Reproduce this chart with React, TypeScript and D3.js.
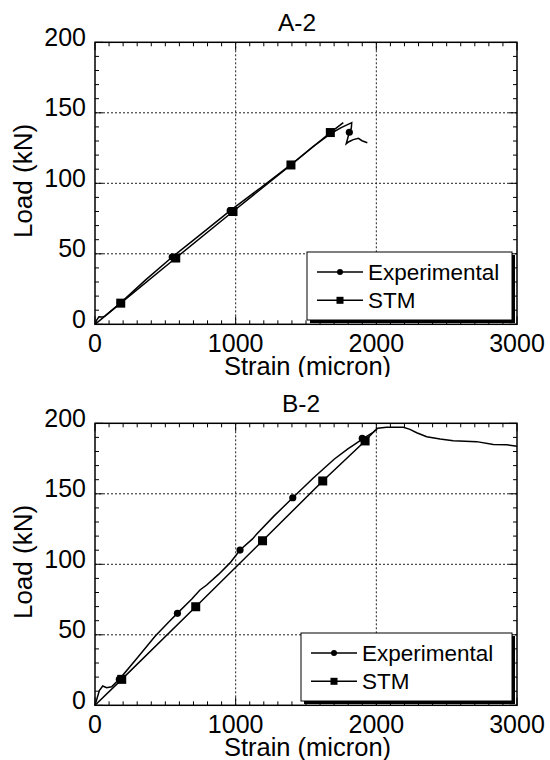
import React from 'react';
import * as d3 from 'd3';

// strain (micron), load (kN)
const titles = ['A-2', 'B-2'];
const seriesNames = ['Experimental', 'STM'];
const xTickLabels = [0, 1000, 2000, 3000];
const yTickLabels = [0, 50, 100, 150, 200];

const expA: [number, number][] = [
	[0, 0], [12, 3], [28, 5.3], [48, 5.1], [70, 5.8], [180, 15], [360, 31.5], [549, 47.7],
	[760, 64.5], [961, 80.6], [1180, 97], [1390, 113], [1550, 126], [1680, 135.5],
	[1750, 139.5], [1825, 143], [1822, 139], [1808, 136.2], [1786, 128], [1805, 129.5],
	[1836, 131], [1873, 131.9], [1898, 130.2], [1936, 128.8],
];
const stmA: [number, number][] = [
	[0, 0], [183, 15], [574, 47], [981, 80], [1393, 113], [1673, 136], [1765, 143],
];
const expMarksA: [number, number][] = [[180, 15], [549, 47.7], [961, 80.6], [1390, 113], [1808, 136.2]];
const stmMarksA: [number, number][] = [[183, 15], [574, 47], [981, 80], [1393, 113], [1673, 136]];

const expB: [number, number][] = [
	[0, 0], [31, 10.4], [55, 13.7], [83, 12.5], [118, 13.2], [154, 16.7], [173, 18.4],
	[300, 33.5], [427, 49], [533, 60], [585, 65.2], [690, 75.5], [746, 81.8], [794, 85.3],
	[880, 93], [960, 101], [1031, 110.1], [1120, 118], [1150, 121.5], [1270, 134],
	[1406, 147.2], [1550, 161], [1700, 174.5], [1800, 182], [1830, 184], [1911, 189.4],
	[1983, 194], [2010, 196.5], [2073, 197.2], [2192, 197.2], [2239, 195.7], [2287, 193.3],
	[2358, 190.5], [2453, 188.9], [2547, 187.7], [2713, 187], [2832, 185], [2927, 184.7],
	[3000, 183.8],
];
const stmB: [number, number][] = [
	[0, 0], [190, 18.4], [716, 69.9], [1191, 116.7], [1619, 159.1], [1920, 187.5], [1995, 195.5],
];
const expMarksB: [number, number][] = [[173, 18.4], [586, 65.2], [1031, 110.1], [1406, 147.2], [1900, 189.4]];
const stmMarksB: [number, number][] = [[190, 18.4], [716, 69.9], [1191, 116.7], [1619, 159.1], [1920, 187.5]];

const panels = [
	{ title: titles[0], exp: expA, stm: stmA, expMarks: expMarksA, stmMarks: stmMarksA, dy: 0, titleX: 297, legendX: 307, clipH: 377 },
	{ title: titles[1], exp: expB, stm: stmB, expMarks: expMarksB, stmMarks: stmMarksB, dy: 381, titleX: 301, legendX: 301, clipH: 379 },
];

const FONT = '"Liberation Sans", Arial, sans-serif';
const x = d3.scaleLinear().domain([0, 3000]).range([95, 517]);
const y = d3.scaleLinear().domain([0, 200]).range([324.3, 42.3]);
const line = d3.line<[number, number]>().x(d => x(d[0])).y(d => y(d[1]));

function Panel({ p, idx }: { p: typeof panels[0]; idx: number }) {
	const [x0, x1] = x.range();
	const [yb, yt] = y.range();
	const xMinor = d3.range(0, 3001, 100);
	const yMinor = d3.range(0, 201, 10);
	const lx = p.legendX;
	const lw = 512 - lx;
	return (
		<g transform={`translate(0,${p.dy})`} clipPath={`url(#clip${idx})`}>
			<defs>
				<clipPath id={`clip${idx}`}>
					<rect x={0} y={0} width={550} height={p.clipH} />
				</clipPath>
			</defs>
			{/* grid */}
			{[1000, 2000].map(v => (
				<line key={'gx' + v} x1={x(v)} x2={x(v)} y1={yt} y2={yb} stroke="#222" strokeWidth={1} strokeDasharray="2 2" />
			))}
			{[50, 100, 150].map(v => (
				<line key={'gy' + v} x1={x0} x2={x1} y1={y(v)} y2={y(v)} stroke="#222" strokeWidth={1} strokeDasharray="2 2" />
			))}
			{/* ticks, inward on all sides */}
			{xMinor.map(v => {
				const len = v % 1000 === 0 ? 8 : 4;
				return (
					<g key={'tx' + v}>
						<line x1={x(v)} x2={x(v)} y1={yb} y2={yb - len} stroke="#000" />
						<line x1={x(v)} x2={x(v)} y1={yt} y2={yt + len} stroke="#000" />
					</g>
				);
			})}
			{yMinor.map(v => {
				const len = v % 50 === 0 ? 8 : 4;
				return (
					<g key={'ty' + v}>
						<line x1={x0} x2={x0 + len} y1={y(v)} y2={y(v)} stroke="#000" />
						<line x1={x1} x2={x1 - len} y1={y(v)} y2={y(v)} stroke="#000" />
					</g>
				);
			})}
			<rect x={x0} y={yt} width={x1 - x0} height={yb - yt} fill="none" stroke="#000" strokeWidth={1.5} />

			{/* series */}
			<path d={line(p.stm) || ''} fill="none" stroke="#000" strokeWidth={1.5} />
			<path d={line(p.exp) || ''} fill="none" stroke="#000" strokeWidth={1.5} />
			{p.stmMarks.map((d, i) => (
				<rect key={'sm' + i} x={x(d[0]) - 4.5} y={y(d[1]) - 4.5} width={9} height={9} fill="#000" />
			))}
			{p.expMarks.map((d, i) => (
				<circle key={'em' + i} cx={x(d[0])} cy={y(d[1])} r={3.6} fill="#000" />
			))}

			{/* tick labels */}
			{yTickLabels.map(v => (
				<text key={'ly' + v} x={86} y={y(v) + 3.5} textAnchor="end" fontFamily={FONT} fontSize={25}>{v}</text>
			))}
			{xTickLabels.map(v => (
				<text key={'lx' + v} x={x(v)} y={352} textAnchor="middle" fontFamily={FONT} fontSize={25}>{v}</text>
			))}
			<text x={p.titleX} y={30.7} textAnchor="middle" fontFamily={FONT} fontSize={24.5}>{p.title}</text>
			<text x={307.5} y={375} textAnchor="middle" fontFamily={FONT} fontSize={25.5}>Strain (micron)</text>
			<text transform="translate(32,181) rotate(-90)" textAnchor="middle" fontFamily={FONT} fontSize={26}>Load (kN)</text>

			{/* legend with drop shadow */}
			<rect x={lx + 3} y={255} width={lw} height={68} fill="#000" />
			<rect x={lx} y={252} width={lw} height={68} fill="#fff" stroke="#000" strokeWidth={1} />
			{seriesNames.map((name, i) => {
				const ly = 272 + i * 28.3;
				return (
					<g key={name}>
						<line x1={lx + 10} x2={lx + 56} y1={ly} y2={ly} stroke="#000" strokeWidth={1.5} />
						{i === 0
							? <circle cx={lx + 33} cy={ly} r={3} fill="#000" />
							: <rect x={lx + 29.5} y={ly - 3.5} width={7} height={7} fill="#000" />}
						<text x={lx + 61} y={ly + 8} fontFamily={FONT} fontSize={22.5}>{name}</text>
					</g>
				);
			})}
		</g>
	);
}

export default function App() {
	return (
		<svg width={550} height={760} style={{ position: 'absolute', left: 0, top: 0, background: '#fff' }}>
			<rect width={550} height={760} fill="#fff" />
			{panels.map((p, i) => <Panel key={p.title} p={p} idx={i} />)}
		</svg>
	);
}
